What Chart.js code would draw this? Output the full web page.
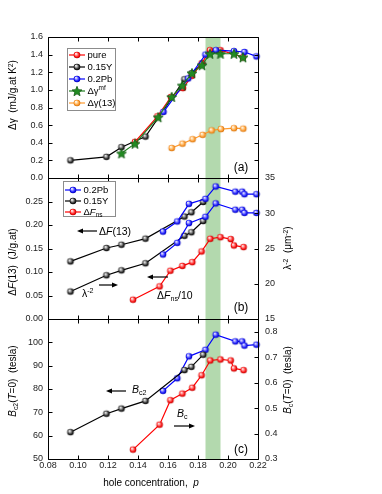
<!DOCTYPE html>
<html><head><meta charset="utf-8">
<script src="https://cdn.jsdelivr.net/npm/chart.js@4/dist/chart.umd.min.js"></script>
<style>
html,body{margin:0;padding:0;background:#fff;}
body{width:382px;height:494px;position:relative;overflow:hidden;font-family:'Liberation Sans',Arial,sans-serif;color:#000;}
canvas.cv{position:absolute;left:0;}
.t{position:absolute;white-space:nowrap;line-height:1;}
.rot{transform:translate(-50%,-50%) rotate(-90deg);}
.lm{transform:translateY(-50%);}
.ctr{transform:translate(-50%,-50%);}
.sup{font-size:0.68em;position:relative;top:-0.5em;}
.sub{font-size:0.68em;position:relative;top:0.3em;}
.box{position:absolute;border:1px solid #8c8c8c;background:#fff;}
</style></head>
<body>
<canvas id="ca" class="cv" width="382" height="200" style="top:0px"></canvas>
<canvas id="cb" class="cv" width="382" height="200" style="top:150px"></canvas>
<canvas id="cc" class="cv" width="382" height="204" style="top:290px"></canvas>
<div id="overlay"></div>
<script>
// ---------------- data ----------------
const bandRange = [0.185, 0.195];
const xTicks = [0.08, 0.10, 0.12, 0.14, 0.16, 0.18, 0.20, 0.22];
const aTicks = [0, 0.2, 0.4, 0.6, 0.8, 1.0, 1.2, 1.4, 1.6];
const bLeftTicks = [0, 0.05, 0.10, 0.15, 0.20, 0.25, 0.30];
const bRightTicks = [15, 20, 25, 30, 35];
const cLeftTicks = [50, 60, 70, 80, 90, 100, 110];
const cRightTicks = [0.3, 0.4, 0.5, 0.6, 0.7, 0.8];

// panel (a): Delta gamma (mJ/g.at K^2)
const pA_pure = [0.138, 0.153, 0.162, 0.170, 0.176, 0.1825, 0.188, 0.195, 0.210];
const gA_pure = [0.41, 0.70, 0.92, 1.02, 1.16, 1.30, 1.45, 1.45, 1.37];
const pA_Y = [0.095, 0.119, 0.129, 0.145, 0.171, 0.1758, 0.183];
const gA_Y = [0.20, 0.24, 0.35, 0.47, 1.12, 1.19, 1.30];
const pA_Pb = [0.157, 0.1735, 0.185, 0.192, 0.204, 0.211, 0.219];
const gA_Pb = [0.75, 1.13, 1.40, 1.45, 1.44, 1.43, 1.38];
const pA_mf = [0.129, 0.138, 0.1535, 0.1625, 0.1695, 0.176, 0.1827, 0.188, 0.195, 0.204, 0.210];
const gA_mf = [0.28, 0.39, 0.69, 0.92, 1.05, 1.19, 1.28, 1.41, 1.41, 1.41, 1.37];
const pA_13 = [0.1625, 0.1697, 0.1764, 0.1831, 0.1891, 0.1953, 0.204, 0.2102];
const gA_13 = [0.34, 0.39, 0.44, 0.49, 0.54, 0.555, 0.565, 0.56];

// panel (b)
const pB_Y = [0.095, 0.119, 0.129, 0.145, 0.171, 0.1756, 0.1835];
const dF13_Y = [0.1225, 0.151, 0.158, 0.171, 0.218, 0.227, 0.249];
const lam2_Y = [18.9, 21.2, 21.9, 22.9, 26.8, 27.3, 28.9];
const pB_Pb = [0.1567, 0.1662, 0.174, 0.185, 0.1918, 0.2049, 0.2095, 0.211, 0.219];
const dF13_Pb = [0.186, 0.2075, 0.245, 0.2557, 0.282, 0.271, 0.271, 0.2655, 0.2655];
const lam2_Pb = [24.15, 25.8, 28.6, 29.5, 31.4, 30.5, 30.5, 30.05, 30.05];
const pB_ns = [0.1367, 0.1544, 0.1616, 0.1696, 0.1762, 0.1824, 0.1882, 0.195, 0.2018, 0.204, 0.2104];
const dFns_div10 = [0.041, 0.0694, 0.1027, 0.113, 0.121, 0.1437, 0.1707, 0.174, 0.170, 0.1565, 0.153];

// panel (c)
const pC_Y = [0.095, 0.119, 0.129, 0.145, 0.171, 0.1756, 0.1835];
const Bc2_Y = [61.5, 69.4, 71.6, 74.9, 88.1, 89.5, 94.7];
const pC_Pb = [0.1567, 0.1662, 0.174, 0.185, 0.1918, 0.2049, 0.2095, 0.211, 0.219];
const Bc2_Pb = [79.2, 84.6, 94.0, 96.8, 103.3, 100.4, 100.4, 98.6, 99.0];
const pC_Bc = [0.1367, 0.1544, 0.1616, 0.1696, 0.1762, 0.1824, 0.1882, 0.195, 0.2018, 0.204, 0.2104];
const Bc_vals = [0.337, 0.435, 0.531, 0.557, 0.58, 0.629, 0.687, 0.691, 0.687, 0.656, 0.649];

// ---------------- styling helpers ----------------
const FONT = "'Liberation Sans', Arial, sans-serif";
const COL = {red:'#ff0000', black:'#000000', blue:'#0000ff', green:'#1f7f1f', orange:'#ff9a2e'};
function ball(light, main, dark, r){
  const s = 2*Math.ceil(r)+2;
  const c = document.createElement('canvas'); c.width = c.height = s;
  const g = c.getContext('2d'); const cx = s/2, cy = s/2;
  const gr = g.createRadialGradient(cx - r*0.35, cy - r*0.4, r*0.08, cx, cy, r);
  gr.addColorStop(0, '#ffffff'); gr.addColorStop(0.3, light); gr.addColorStop(0.72, main); gr.addColorStop(1, dark);
  g.beginPath(); g.arc(cx, cy, r, 0, 2*Math.PI); g.fillStyle = gr; g.fill();
  return c;
}
function star(fill, stroke, R){
  const r = R*0.45; const s = 2*Math.ceil(R)+2;
  const c = document.createElement('canvas'); c.width = c.height = s;
  const g = c.getContext('2d'); g.translate(s/2, s/2 + R*0.1);
  g.beginPath();
  for (let i = 0; i < 10; i++){ const a = -Math.PI/2 + i*Math.PI/5; const rr = i%2 ? r : R; g.lineTo(rr*Math.cos(a), rr*Math.sin(a)); }
  g.closePath(); g.fillStyle = fill; g.fill(); g.strokeStyle = stroke; g.lineWidth = 0.8; g.stroke();
  return c;
}
const MK = {
  red: ball('#ff9a9a', '#ff1010', '#b00000', 3.3),
  black: ball('#b0b0b0', '#282828', '#000000', 3.3),
  blue: ball('#9a9aff', '#1515ff', '#0000a8', 3.3),
  orange: ball('#ffd9a0', '#ff9a30', '#cc6a00', 3.3),
  star: star('#228b22', '#145a14', 5.2)
};
function pts(xs, ys){ return xs.map((x, i) => ({x: x, y: ys[i]})); }
function ds(xs, ys, color, img, yAxisID){
  return {data: pts(xs, ys), borderColor: color, backgroundColor: color, borderWidth: 1.2,
    pointStyle: img, pointRadius: 4, showLine: true, tension: 0, yAxisID: yAxisID, clip: false, fill: false};
}
function setTicks(arr){ return function(scale){ scale.ticks = arr.map(v => ({value: v})); }; }

const framePlugin = {
  id: 'frame',
  beforeDatasetsDraw(chart){
    const {ctx, chartArea: a, scales} = chart;
    const x0 = scales.x.getPixelForValue(bandRange[0]), x1 = scales.x.getPixelForValue(bandRange[1]);
    ctx.save(); ctx.fillStyle = '#b3d9ae'; ctx.fillRect(x0, a.top, x1 - x0, a.bottom - a.top); ctx.restore();
  },
  afterDraw(chart, args, opts){
    const {ctx, chartArea: a, scales} = chart;
    const L = 4;
    ctx.save(); ctx.strokeStyle = '#000'; ctx.lineWidth = 1;
    const l = Math.round(a.left) + 0.5, r = Math.round(a.right) + 0.5, t = Math.round(a.top) + 0.5, b = Math.round(a.bottom) + 0.5;
    ctx.beginPath(); ctx.rect(l, t, r - l, b - t); ctx.stroke();
    ctx.beginPath();
    xTicks.forEach(v => { const px = Math.round(scales.x.getPixelForValue(v)) + 0.5;
      ctx.moveTo(px, t); ctx.lineTo(px, t + L); ctx.moveTo(px, b); ctx.lineTo(px, b - L); });
    const yl = scales.y; const yr = scales.y2 || scales.y;
    opts.left.forEach(v => { const py = Math.round(yl.getPixelForValue(v)) + 0.5; ctx.moveTo(l, py); ctx.lineTo(l + L, py); });
    opts.right.forEach(v => { const py = Math.round(yr.getPixelForValue(v)) + 0.5; ctx.moveTo(r, py); ctx.lineTo(r - L, py); });
    ctx.stroke(); ctx.restore();
  }
};

const xScaleBase = {type: 'linear', min: 0.08, max: 0.22, afterBuildTicks: setTicks(xTicks),
  grid: {display: false, drawTicks: false}, border: {display: false}};
const tickFont = {family: FONT, size: 9};
function yScale(pos, min, max, arr, fmt, width, pad){
  return {type: 'linear', position: pos, min: min, max: max, afterBuildTicks: setTicks(arr),
    afterFit: s => { s.width = width; },
    grid: {display: false, drawTicks: false}, border: {display: false},
    ticks: {font: tickFont, color: '#222', padding: pad, callback: fmt}};
}
const common = {responsive: false, animation: false, devicePixelRatio: 1, events: [],
  plugins: {legend: {display: false}, tooltip: {enabled: false}}};

// ---------------- chart A ----------------
new Chart(document.getElementById('ca'), {
  type: 'scatter',
  data: {datasets: [
    ds(pA_mf, gA_mf, COL.green, MK.star, 'y'),
    ds(pA_Pb, gA_Pb, COL.blue, MK.blue, 'y'),
    ds(pA_pure, gA_pure, COL.red, MK.red, 'y'),
    ds(pA_Y, gA_Y, COL.black, MK.black, 'y'),
    ds(pA_13, gA_13, COL.orange, MK.orange, 'y')
  ]},
  options: Object.assign({}, common, {
    layout: {padding: {top: 37, bottom: 22, left: 0, right: 124}},
    plugins: Object.assign({}, common.plugins, {frame: {left: aTicks, right: aTicks}}),
    scales: {
      x: Object.assign({}, xScaleBase, {display: false}),
      y: yScale('left', 0, 1.6, aTicks, v => v.toFixed(1), 48, 5)
    }
  }),
  plugins: [framePlugin]
});

// ---------------- chart B ----------------
new Chart(document.getElementById('cb'), {
  type: 'scatter',
  data: {datasets: [
    ds(pB_Pb, dF13_Pb, COL.blue, MK.blue, 'y'),
    ds(pB_Y, dF13_Y, COL.black, MK.black, 'y'),
    ds(pB_Pb, lam2_Pb, COL.blue, MK.blue, 'y2'),
    ds(pB_Y, lam2_Y, COL.black, MK.black, 'y2'),
    ds(pB_ns, dFns_div10, COL.red, MK.red, 'y')
  ]},
  options: Object.assign({}, common, {
    layout: {padding: {top: 28, bottom: 31, left: 0, right: 0}},
    plugins: Object.assign({}, common.plugins, {frame: {left: bLeftTicks, right: bRightTicks}}),
    scales: {
      x: Object.assign({}, xScaleBase, {display: false}),
      y: yScale('left', 0, 0.30, bLeftTicks, v => v > 0.29 ? '' : v.toFixed(2), 48, 5),
      y2: yScale('right', 15, 35, bRightTicks, v => String(v), 124, 7)
    }
  }),
  plugins: [framePlugin]
});

// ---------------- chart C ----------------
new Chart(document.getElementById('cc'), {
  type: 'scatter',
  data: {datasets: [
    ds(pC_Y, Bc2_Y, COL.black, MK.black, 'y'),
    ds(pC_Pb, Bc2_Pb, COL.blue, MK.blue, 'y'),
    ds(pC_Bc, Bc_vals, COL.red, MK.red, 'y2')
  ]},
  options: Object.assign({}, common, {
    layout: {padding: {top: 29, bottom: 0, left: 0, right: 0}},
    plugins: Object.assign({}, common.plugins, {frame: {left: cLeftTicks, right: cRightTicks}}),
    scales: {
      x: Object.assign({}, xScaleBase, {display: true, position: 'bottom',
        afterFit: s => { s.height = 35; },
        ticks: {font: tickFont, color: '#222', padding: 1, maxRotation: 0, autoSkip: false, callback: v => v.toFixed(2)}}),
      y: yScale('left', 50, 110, cLeftTicks, v => v > 105 ? '' : String(v), 48, 5),
      y2: yScale('right', 0.3, 0.85, cRightTicks, v => v.toFixed(1), 124, 7)
    }
  }),
  plugins: [framePlugin]
});

// ---------------- overlay: titles, legends, annotations ----------------
const ov = document.getElementById('overlay');
function txt(html, x, y, size, cls){
  const d = document.createElement('div'); d.className = 't ' + cls; d.innerHTML = html;
  d.style.left = x + 'px'; d.style.top = y + 'px'; d.style.fontSize = size + 'px'; ov.appendChild(d); return d;
}
// axis titles
txt('Δγ&nbsp; (mJ/g.at K<span class="sup">2</span>)', 13, 95, 10, 'rot');
txt('Δ<i>F</i>(13)&nbsp; (J/g.at)', 13, 262, 10, 'rot');
txt('<i>B</i><span class="sub">c2</span>(<i>T</i>=0)&nbsp; (tesla)', 13, 381, 10, 'rot');
txt('λ<span class="sup">-2</span>&nbsp; (μm<span class="sup">-2</span>)', 288, 248, 10, 'rot');
txt('<i>B</i><span class="sub">c</span>(<i>T</i>=0)&nbsp; (tesla)', 288, 380, 10, 'rot');
txt('hole concentration,&nbsp; <i>p</i>', 151, 483, 10, 'ctr');
// panel labels
txt('(a)', 241, 166.5, 12, 'ctr');
txt('(b)', 241, 306.5, 12, 'ctr');
txt('(c)', 241, 448.5, 12, 'ctr');
// annotations
txt('Δ<i>F</i>(13)', 99, 231, 10.5, 'lm');
txt('λ<span class="sup">-2</span>', 82, 294, 10.5, 'lm');
txt('Δ<i>F</i><span class="sub">ns</span>/10', 157, 296, 10.5, 'lm');
txt('<i>B</i><span class="sub">c2</span>', 132, 390, 10.5, 'lm');
txt('<i>B</i><span class="sub">c</span>', 177, 414, 10.5, 'lm');

// arrows
const NS = 'http://www.w3.org/2000/svg';
const svg = document.createElementNS(NS, 'svg');
svg.setAttribute('width', 382); svg.setAttribute('height', 494);
svg.style.position = 'absolute'; svg.style.left = '0'; svg.style.top = '0';
function arrow(xTail, xHead, y){
  const dir = xHead > xTail ? 1 : -1;
  const ln = document.createElementNS(NS, 'line');
  ln.setAttribute('x1', xTail); ln.setAttribute('x2', xHead - dir*4); ln.setAttribute('y1', y); ln.setAttribute('y2', y);
  ln.setAttribute('stroke', '#000'); ln.setAttribute('stroke-width', 1.2); svg.appendChild(ln);
  const pg = document.createElementNS(NS, 'polygon');
  pg.setAttribute('points', `${xHead},${y} ${xHead - dir*6},${y - 2.4} ${xHead - dir*6},${y + 2.4}`);
  pg.setAttribute('fill', '#000'); svg.appendChild(pg);
}
arrow(97, 77, 231);
arrow(99, 118, 285);
arrow(168, 147, 277);
arrow(126, 106, 391);
arrow(174, 195, 426);
ov.appendChild(svg);

// legends
function legend(left, top, w, h, rows){
  const b = document.createElement('div'); b.className = 'box';
  b.style.left = left + 'px'; b.style.top = top + 'px'; b.style.width = w + 'px'; b.style.height = h + 'px';
  ov.appendChild(b);
  rows.forEach(r => {
    const c = document.createElement('canvas'); c.width = 18; c.height = 12;
    c.style.position = 'absolute'; c.style.left = r.x + 'px'; c.style.top = (r.y - 6) + 'px';
    const g = c.getContext('2d');
    g.strokeStyle = r.color; g.lineWidth = 1.2; g.beginPath(); g.moveTo(1, 6); g.lineTo(17, 6); g.stroke();
    g.drawImage(r.img, 9 - r.img.width/2, 6 - r.img.height/2);
    ov.appendChild(c);
    txt(r.label, r.x + 20, r.y, 9.5, 'lm');
  });
}
legend(67, 48, 47, 61, [
  {x: 67.5, y: 54.5, color: COL.red, img: MK.red, label: 'pure'},
  {x: 67.5, y: 66.5, color: COL.black, img: MK.black, label: '0.15Y'},
  {x: 67.5, y: 78.5, color: COL.blue, img: MK.blue, label: '0.2Pb'},
  {x: 67.5, y: 90.5, color: COL.green, img: MK.star, label: 'Δγ<span class="sup">mf</span>'},
  {x: 67.5, y: 102.5, color: COL.orange, img: MK.orange, label: 'Δγ(13)'}
]);
legend(63, 181, 51, 34, [
  {x: 63.5, y: 189.5, color: COL.blue, img: MK.blue, label: '0.2Pb'},
  {x: 63.5, y: 201, color: COL.black, img: MK.black, label: '0.15Y'},
  {x: 63.5, y: 212, color: COL.red, img: MK.red, label: 'Δ<i>F</i><span class="sub">ns</span>'}
]);
</script>
</body></html>
